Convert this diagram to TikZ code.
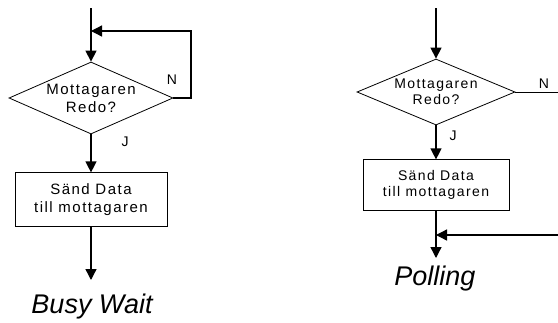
\documentclass[tikz,border=0pt]{standalone}
\usepackage{fontspec}
\setmainfont{Liberation Sans}
\newfontfamily\flowfont[LetterSpace=10]{Liberation Sans}
\usetikzlibrary{positioning,arrows.meta,shapes.geometric}

\begin{document}
\begin{tikzpicture}[x=1pt, y=-1pt, >={Triangle[length=11pt,width=11pt]},
    flow/.style={line width=1.3pt},
    decision/.style={draw, line width=0.8pt, shape=diamond, inner sep=0pt, align=center},
    action/.style={draw, line width=0.8pt, inner sep=0pt, align=center},
    yn/.style={font=\fontsize{14}{16}\selectfont},
    caption/.style={font=\fontsize{27}{32}\selectfont\itshape, anchor=base}]
    \useasboundingbox (0,0) rectangle (558,322);

    % busy wait: loop back until the receiver is ready
    \coordinate (btop) at (91,8);
    \node[decision, aspect=2.2, minimum width=164pt, minimum height=72pt,
          font=\flowfont\fontsize{15}{18}\selectfont] (bdec) at (91,98) {Mottagaren\\Redo?};
    \node[action, below=38pt of bdec, minimum width=152pt, minimum height=54pt,
          font=\flowfont\fontsize{15}{18}\selectfont] (bsend) {Sänd Data\\till mottagaren};
    \coordinate (bmerge) at (91,31);
    \coordinate (bloop) at (191,98);
    \coordinate (bend) at (91,280);

    \draw[flow,->] (btop) -- (bdec);
    \draw[flow,->] (bdec.east) -- (bloop) |- (bmerge);
    \draw[flow,->] (bdec) -- (bsend);
    \draw[flow,->] (bsend) -- (bend);
    \node[yn] (bno) at (172,80) {N};
    \node[yn] (byes) at (125,142) {J};
    \node[caption] (bcap) at (92,313) {Busy Wait};

    % polling: the N branch leaves and comes back further down
    \coordinate (ptop) at (436,8);
    \node[decision, aspect=2.4, minimum width=158pt, minimum height=66pt,
          font=\flowfont\fontsize{14}{16}\selectfont] (pdec) at (436,92) {Mottagaren\\Redo?};
    \node[action, below=34pt of pdec, minimum width=146pt, minimum height=51pt,
          font=\flowfont\fontsize{14}{16}\selectfont] (psend) {Sänd Data\\till mottagaren};
    \coordinate (pout) at (558,92);
    \coordinate (pin) at (558,235);
    \coordinate (pmerge) at (436,235);
    \coordinate (pend) at (436,258);

    \draw[flow,->] (ptop) -- (pdec);
    \draw[line width=1pt] (pdec.east) -- (pout);
    \draw[flow,->] (pdec) -- (psend);
    \draw[flow,->] (psend) -- (pend);
    \draw[flow,->] (pin) -- (pmerge);
    \node[yn] (pno) at (544,84) {N};
    \node[yn] (pyes) at (453,136) {J};
    \node[caption] (pcap) at (435,285) {Polling};
\end{tikzpicture}
\end{document}
